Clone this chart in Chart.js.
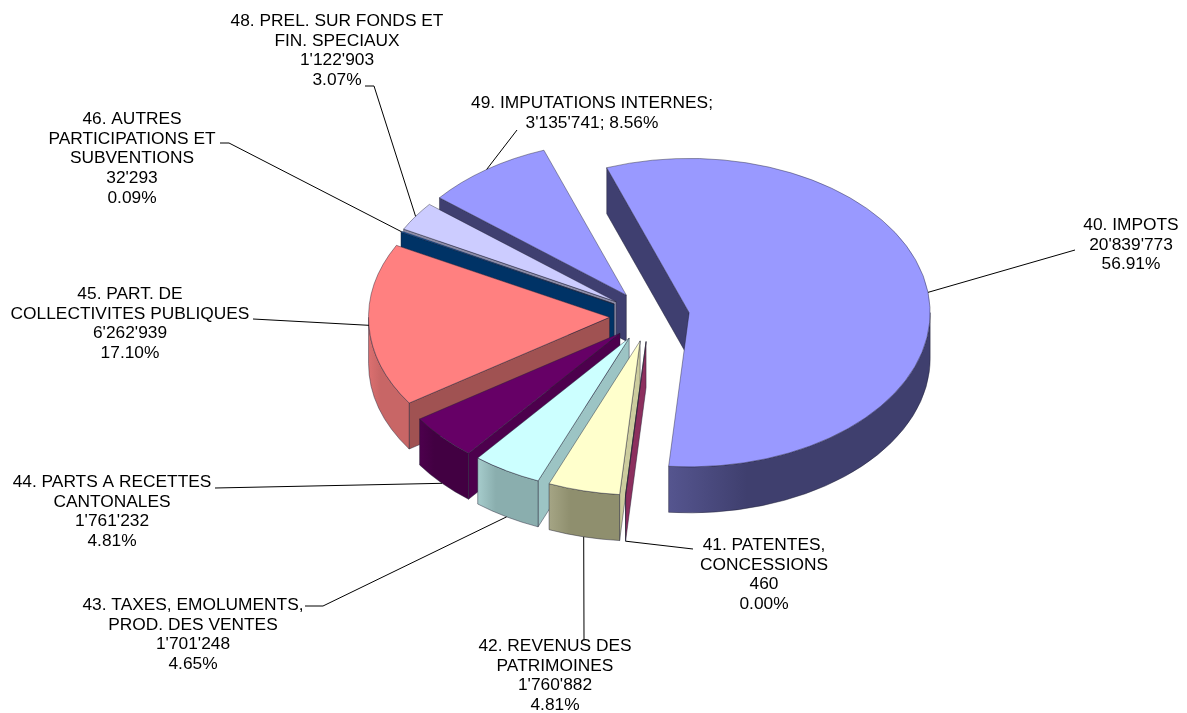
<!DOCTYPE html>
<html lang="fr">

<head>
    <meta charset="UTF-8">
    <title>Recettes par nature</title>
    <style>
        html, body {
            margin: 0;
            padding: 0;
            background: #fff;
        }

        .chart-container {
            position: relative;
            width: 1187px;
            height: 713px;
        }

        canvas {
            display: block;
        }
    </style>
</head>

<body>
    <div class="chart-container">
        <canvas id="myChart" width="1187" height="713"></canvas>
    </div>

    <script src="https://cdn.jsdelivr.net/npm/chart.js@4"></script>
    <script>
        // values
        const categories = [
            '40. IMPOTS',
            '41. PATENTES,\nCONCESSIONS',
            '42. REVENUS DES\nPATRIMOINES',
            '43. TAXES, EMOLUMENTS,\nPROD. DES VENTES',
            '44. PARTS A RECETTES\nCANTONALES',
            '45. PART. DE\nCOLLECTIVITES PUBLIQUES',
            '46. AUTRES\nPARTICIPATIONS ET\nSUBVENTIONS',
            '48. PREL. SUR FONDS ET\nFIN. SPECIAUX',
            '49. IMPUTATIONS INTERNES;'
        ];
        const values = [20839773, 460, 1760882, 1701248, 1761232, 6262939, 32293, 1122903, 3135741];
        const valueLabels = ["20'839'773", '460', "1'760'882", "1'701'248", "1'761'232", "6'262'939", "32'293", "1'122'903", "3'135'741"];
        const percentLabels = ['56.91%', '0.00%', '4.81%', '4.65%', '4.81%', '17.10%', '0.09%', '3.07%', '8.56%'];

        // colours of each slice: top, straight faces, outer wall, lit end of outer wall
        const topColors = ['#9999FF', '#993366', '#FFFFCC', '#CCFFFF', '#660066', '#FF8080', '#0066CC', '#CCCCFF', '#9999FF'];
        const faceColors = ['#3F3F70', '#8C2F5E', '#CCCC9E', '#9CC4C4', '#4D004D', '#A05252', '#003366', '#8C8CA8', '#3F3F70'];
        const rimColors = ['#3F3F6E', '#7A2850', '#8F8F6E', '#8AAEAE', '#420042', '#C86666', '#003366', '#8C8CA8', '#3F3F6E'];
        const rimLitColors = ['#55558F', '#8C2F5E', '#A5A585', '#A6CCCC', '#4D004D', '#DC7070', '#003366', '#9C9CB8', '#55558F'];

        // pie projection
        const squash = 0.64;
        const depth = 46;
        const explode = 40;
        const lineHeight = 19.8;

        // label block: centre x, y of first line, then leader points from label to slice
        const labelLayout = [
            { x: 1131, y: 225, leader: [[1075, 250]] },
            { x: 764, y: 545, leader: [[693, 549]] },
            { x: 555, y: 646, leader: [[584, 640]] },
            { x: 193, y: 605, leader: [[305, 606], [323, 606]] },
            { x: 112, y: 482, leader: [[215, 488]] },
            { x: 130, y: 294, leader: [[253, 319]] },
            { x: 132, y: 119, leader: [[220, 143], [229, 143]] },
            { x: 337, y: 21, leader: [[365, 86], [374, 86]] },
            { x: 592, y: 103, leader: [[517, 130]], oneLine: true }
        ];

        function centreY(chart) {
            return (chart.chartArea.top + chart.chartArea.bottom) / 2;
        }

        function project(arc, angle, radius, midY) {
            return {
                x: arc.x + Math.cos(angle) * radius,
                y: midY + squash * (arc.y - midY + Math.sin(angle) * radius)
            };
        }

        function drawFace(ctx, arc, angle, index, midY) {
            const apex = project(arc, 0, 0, midY);
            const rim = project(arc, angle, arc.outerRadius, midY);
            const inside = project(arc, (arc.startAngle + arc.endAngle) / 2, arc.outerRadius, midY);
            // only draw when the slice lies above this edge on screen
            const ex = rim.x - apex.x, ey = rim.y - apex.y;
            const crossInside = ex * (inside.y - apex.y) - ey * (inside.x - apex.x);
            const crossDown = ex;
            if (crossInside * crossDown > 0) return;
            ctx.beginPath();
            ctx.moveTo(apex.x, apex.y);
            ctx.lineTo(rim.x, rim.y);
            ctx.lineTo(rim.x, rim.y + depth);
            ctx.lineTo(apex.x, apex.y + depth);
            ctx.closePath();
            ctx.fillStyle = faceColors[index];
            ctx.fill();
            ctx.stroke();
        }

        function drawRim(ctx, arc, index, midY) {
            for (let n = -1; n <= 1; n++) {
                const from = Math.max(arc.startAngle, 2 * Math.PI * n);
                const to = Math.min(arc.endAngle, 2 * Math.PI * n + Math.PI);
                if (to <= from) continue;
                const a = project(arc, from, arc.outerRadius, midY);
                const b = project(arc, to, arc.outerRadius, midY);
                const py = project(arc, 0, 0, midY).y;
                const left = Math.min(a.x, b.x), right = Math.max(a.x, b.x);
                const fill = ctx.createLinearGradient(left, 0, right, 0);
                fill.addColorStop(0, rimLitColors[index]);
                fill.addColorStop(0.3, rimColors[index]);
                fill.addColorStop(1, rimColors[index]);
                ctx.beginPath();
                ctx.ellipse(arc.x, py, arc.outerRadius, arc.outerRadius * squash, 0, from, to);
                ctx.ellipse(arc.x, py + depth, arc.outerRadius, arc.outerRadius * squash, 0, to, from, true);
                ctx.closePath();
                ctx.fillStyle = fill;
                ctx.fill();
                ctx.stroke();
            }
        }

        const pie3d = {
            id: 'pie3d',
            afterDatasetsUpdate(chart) {
                // move each arc out from the centre along its middle angle
                chart.getDatasetMeta(0).data.forEach(arc => {
                    const mid = (arc.startAngle + arc.endAngle) / 2;
                    arc.x += Math.cos(mid) * explode;
                    arc.y += Math.sin(mid) * explode;
                });
            },
            beforeDatasetsDraw(chart) {
                const ctx = chart.ctx;
                const midY = centreY(chart);
                const arcs = chart.getDatasetMeta(0).data;
                const order = arcs.map((arc, i) => i).sort((a, b) => arcs[a].y - arcs[b].y);

                ctx.save();
                ctx.lineWidth = 0.7;
                ctx.strokeStyle = 'rgba(30,30,50,0.65)';
                ctx.lineJoin = 'bevel';
                order.forEach(i => {
                    drawFace(ctx, arcs[i], arcs[i].startAngle, i, midY);
                    drawFace(ctx, arcs[i], arcs[i].endAngle, i, midY);
                    drawRim(ctx, arcs[i], i, midY);
                });
                ctx.restore();

                // flatten the tops drawn by the library
                ctx.save();
                ctx.translate(0, midY);
                ctx.scale(1, squash);
                ctx.translate(0, -midY);
            },
            afterDatasetsDraw(chart) {
                const ctx = chart.ctx;
                ctx.restore();

                const midY = centreY(chart);
                const arcs = chart.getDatasetMeta(0).data;

                // leader lines: front slices are reached at the foot of the wall
                ctx.save();
                ctx.strokeStyle = '#000';
                ctx.lineWidth = 1;
                arcs.forEach((arc, i) => {
                    const mid = (arc.startAngle + arc.endAngle) / 2;
                    const p = project(arc, mid, arc.outerRadius, midY);
                    ctx.beginPath();
                    labelLayout[i].leader.forEach((pt, n) => {
                        if (n === 0) ctx.moveTo(pt[0], pt[1]);
                        else ctx.lineTo(pt[0], pt[1]);
                    });
                    ctx.lineTo(p.x, p.y + (Math.sin(mid) > 0.2 ? depth : 0));
                    ctx.stroke();
                });
                ctx.restore();

                // labels
                ctx.save();
                ctx.font = '17.33px "Liberation Sans", Arial, sans-serif';
                ctx.fillStyle = '#000';
                ctx.textAlign = 'center';
                ctx.textBaseline = 'middle';
                arcs.forEach((arc, i) => {
                    const layout = labelLayout[i];
                    const lines = categories[i].split('\n');
                    if (layout.oneLine) lines.push(valueLabels[i] + '; ' + percentLabels[i]);
                    else lines.push(valueLabels[i], percentLabels[i]);
                    lines.forEach((line, n) => {
                        ctx.fillText(line, layout.x, layout.y + n * lineHeight);
                    });
                });
                ctx.restore();
            }
        };

        const ctx = document.getElementById('myChart').getContext('2d');
        const myChart = new Chart(ctx, {
            type: 'pie',
            data: {
                labels: categories,
                datasets: [{
                    data: values,
                    backgroundColor: topColors,
                    borderColor: 'rgba(30,30,50,0.65)',
                    borderWidth: 0.8,
                    clip: false
                }]
            },
            options: {
                responsive: false,
                maintainAspectRatio: false,
                animation: false,
                events: [],
                rotation: -20,
                radius: 241,
                layout: {
                    padding: { left: 112, bottom: 81 }
                },
                plugins: {
                    legend: { display: false },
                    tooltip: { enabled: false }
                }
            },
            plugins: [pie3d]
        });
    </script>
</body>

</html>
